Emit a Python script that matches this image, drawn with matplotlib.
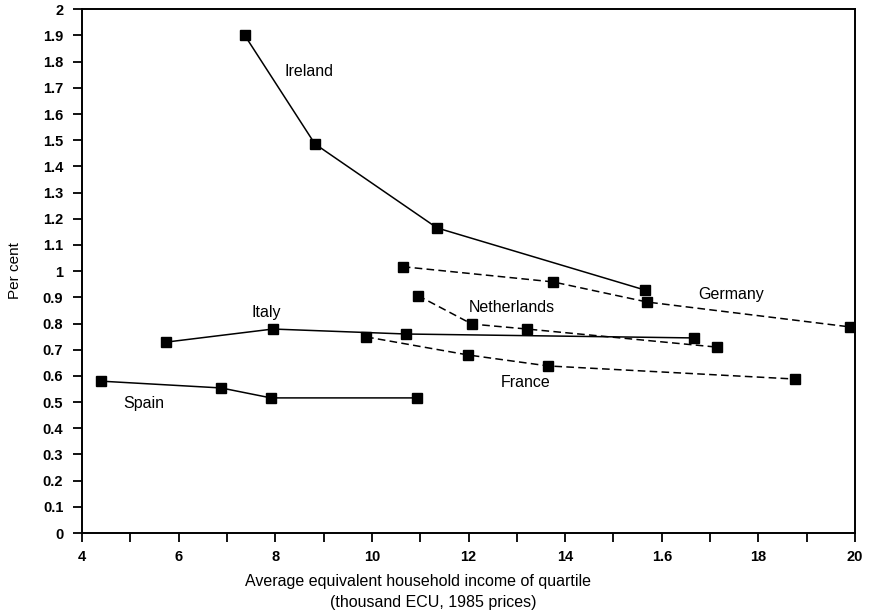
import matplotlib
matplotlib.use('Agg')
import matplotlib.pyplot as plt
from matplotlib.ticker import MultipleLocator

plt.rcParams['font.family'] = ['Liberation Sans', 'DejaVu Sans']

# values (x = income, y = per cent)
ireland_x = [7.37, 8.82, 11.35, 15.65]
ireland_y = [1.90, 1.486, 1.165, 0.928]
germany_x = [10.64, 13.75, 15.70, 19.90]
germany_y = [1.017, 0.959, 0.882, 0.787]
netherlands_x = [10.95, 12.07, 13.21, 17.14]
netherlands_y = [0.907, 0.798, 0.779, 0.710]
italy_x = [5.74, 7.95, 10.71, 16.67]
italy_y = [0.729, 0.779, 0.760, 0.745]
france_x = [9.88, 11.99, 13.65, 18.76]
france_y = [0.749, 0.680, 0.638, 0.588]
spain_x = [4.39, 6.88, 7.91, 10.93]
spain_y = [0.580, 0.554, 0.516, 0.516]

x_ticks = [4, 6, 8, 10, 12, 14, 16, 18, 20]
x_tick_labels = ['4', '6', '8', '10', '12', '14', '1.6', '18', '20']
y_ticks = [i / 10 for i in range(21)]
y_tick_labels = ['0', '0.1', '0.2', '0.3', '0.4', '0.5', '0.6', '0.7', '0.8', '0.9',
                 '1', '1.1', '1.2', '1.3', '1.4', '1.5', '1.6', '1.7', '1.8', '1.9', '2']

fig = plt.figure(figsize=(8.69, 6.16), dpi=100)
ax = fig.add_axes([0.0944, 0.1347, 0.8895, 0.8502])

dash = (0, (5, 2.8))
style = dict(color='black', lw=1.1, marker='s', ms=7, mfc='black', mec='black')
ax.plot(ireland_x, ireland_y, ls='-', **style)
ax.plot(spain_x, spain_y, ls='-', **style)
ax.plot(italy_x, italy_y, ls='-', **style)
ax.plot(germany_x, germany_y, ls=dash, **style)
ax.plot(netherlands_x, netherlands_y, ls=dash, **style)
ax.plot(france_x, france_y, ls=dash, **style)

lab = dict(fontsize=11.5, ha='center', va='center')
ax.text(8.70, 1.762, 'Ireland', **lab)
ax.text(17.43, 0.909, 'Germany', **lab)
ax.text(12.89, 0.860, 'Netherlands', **lab)
ax.text(7.81, 0.843, 'Italy', **lab)
ax.text(13.18, 0.574, 'France', **lab)
ax.text(5.28, 0.496, 'Spain', **lab)

ax.set_xlim(4, 20)
ax.set_ylim(0, 2)
ax.set_xticks(x_ticks)
ax.set_xticklabels(x_tick_labels)
ax.xaxis.set_minor_locator(MultipleLocator(1))
ax.set_yticks(y_ticks)
ax.set_yticklabels(y_tick_labels)
ax.tick_params(axis='both', which='both', direction='out', length=6.5, width=1.3,
               labelsize=10.5, color='black')
ax.tick_params(axis='x', pad=6)
ax.tick_params(axis='y', pad=7)
for t in ax.get_xticklabels() + ax.get_yticklabels():
    t.set_fontweight('bold')
for s in ax.spines.values():
    s.set_linewidth(1.4)

fig.text(0.481, 0.0568, 'Average equivalent household income of quartile',
         ha='center', va='center', fontsize=11.5)
fig.text(0.498, 0.0227, '(thousand ECU, 1985 prices)',
         ha='center', va='center', fontsize=11.5)
fig.text(0.0173, 0.56, 'Per cent', rotation=90, ha='center', va='center', fontsize=11)

fig.savefig('out.png', dpi=100)
